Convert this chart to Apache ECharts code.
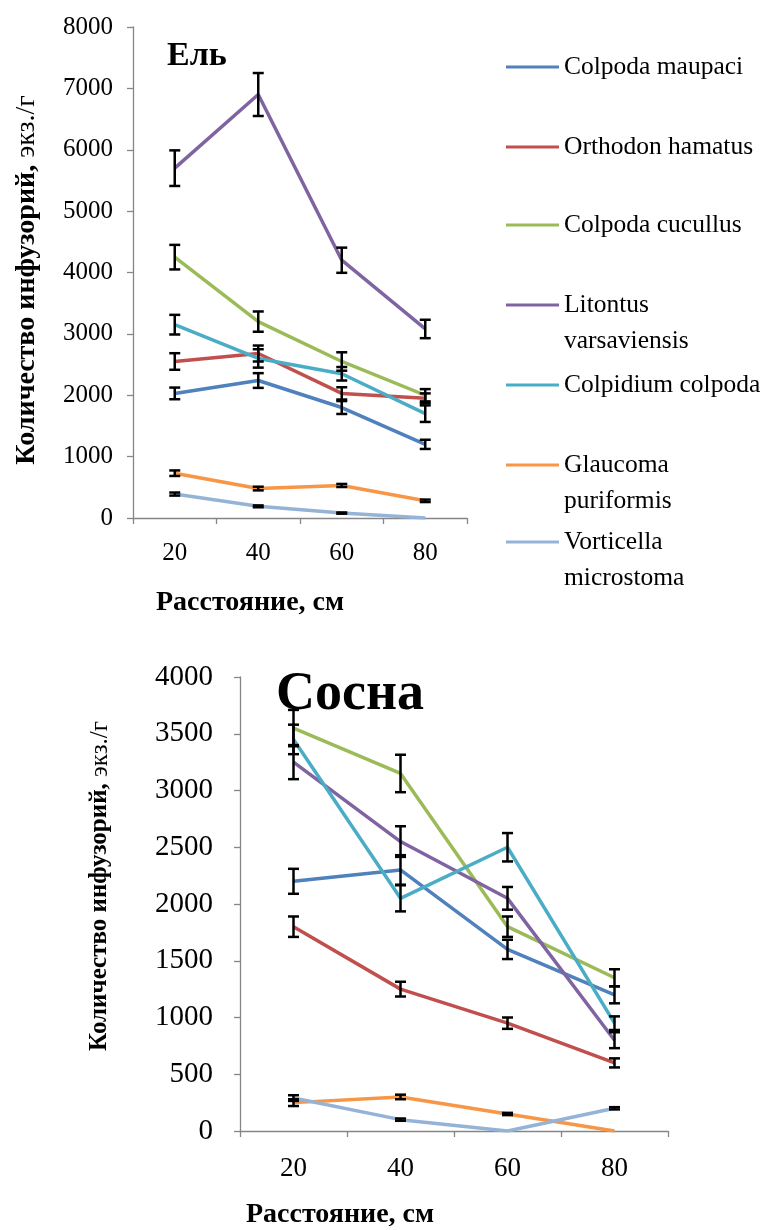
<!DOCTYPE html>
<html><head><meta charset="utf-8">
<script src="https://cdn.jsdelivr.net/npm/echarts@6/dist/echarts.min.js"></script>
<style>html,body{margin:0;padding:0;background:#fff}#c{width:765px;height:1230px}</style>
</head><body><div id="c"></div>
<script>
// ---------- DATA ----------
const categories = ['20', '40', '60', '80'];
const seriesNames = ['Colpoda maupaci', 'Orthodon hamatus', 'Colpoda cucullus', 'Litontus varsaviensis', 'Colpidium colpoda', 'Glaucoma puriformis', 'Vorticella microstoma'];
const legendLabels = ['Colpoda maupaci', 'Orthodon hamatus', 'Colpoda cucullus', 'Litontus\nvarsaviensis', 'Colpidium colpoda', 'Glaucoma\npuriformis', 'Vorticella\nmicrostoma'];
const colors = ['#4F81BD', '#C0504D', '#9BBB59', '#8064A2', '#4BACC6', '#F79646', '#95B3D7'];

// Ель (spruce) – means
const spruceMaupaci    = [2030, 2240, 1800, 1200];
const spruceOrthodon   = [2550, 2680, 2030, 1950];
const spruceCucullus   = [4250, 3200, 2550, 2000];
const spruceLitontus   = [5700, 6900, 4200, 3080];
const spruceColpidium  = [3150, 2600, 2350, 1700];
const spruceGlaucoma   = [730, 480, 530, 280];
const spruceVorticella = [390, 190, 80, 0];
// Ель – error half-widths
const spruceMaupaciErr    = [95, 120, 105, 75];
const spruceOrthodonErr   = [135, 130, 100, 80];
const spruceCucullusErr   = [200, 165, 150, 100];
const spruceLitontusErr   = [290, 350, 205, 150];
const spruceColpidiumErr  = [160, 150, 110, 135];
const spruceGlaucomaErr   = [45, 30, 25, 20];
const spruceVorticellaErr = [25, 15, 10, 0];

// Сосна (pine) – means
const pineMaupaci    = [2200, 2300, 1600, 1200];
const pineOrthodon   = [1800, 1250, 950, 600];
const pineCucullus   = [3550, 3150, 1800, 1350];
const pineLitontus   = [3250, 2550, 2050, 800];
const pineColpidium  = [3450, 2050, 2500, 950];
const pineGlaucoma   = [250, 300, 150, 0];
const pineVorticella = [290, 100, 0, 200];
// Сосна – error half-widths
const pineMaupaciErr    = [110, 130, 85, 75];
const pineOrthodonErr   = [90, 65, 50, 40];
const pineCucullusErr   = [160, 165, 90, 75];
const pineLitontusErr   = [150, 135, 100, 70];
const pineColpidiumErr  = [130, 115, 125, 60];
const pineGlaucomaErr   = [30, 20, 10, 0];
const pineVorticellaErr = [25, 10, 0, 10];

const spruceYMax = 8000, spruceYStep = 1000;
const pineYMax = 4000, pineYStep = 500;

const spruceMeans = [spruceMaupaci, spruceOrthodon, spruceCucullus, spruceLitontus, spruceColpidium, spruceGlaucoma, spruceVorticella];
const spruceErrs = [spruceMaupaciErr, spruceOrthodonErr, spruceCucullusErr, spruceLitontusErr, spruceColpidiumErr, spruceGlaucomaErr, spruceVorticellaErr];
const pineMeans = [pineMaupaci, pineOrthodon, pineCucullus, pineLitontus, pineColpidium, pineGlaucoma, pineVorticella];
const pineErrs = [pineMaupaciErr, pineOrthodonErr, pineCucullusErr, pineLitontusErr, pineColpidiumErr, pineGlaucomaErr, pineVorticellaErr];

// ---------- CHART ----------
const SERIF = '"Liberation Serif", "Times New Roman", serif';
const AXIS_COLOR = '#868686';

function errRender(params, api) {
  const x = api.value(0), v = api.value(1), e = api.value(2);
  if (!e) return null;
  const hi = api.coord([x, v + e]);
  const lo = api.coord([x, Math.max(0, v - e)]);
  const w = 5.5;
  const st = { stroke: '#000', lineWidth: 2.5 };
  return {
    type: 'group',
    children: [
      { type: 'line', shape: { x1: hi[0], y1: hi[1], x2: lo[0], y2: lo[1] }, style: st },
      { type: 'line', shape: { x1: hi[0] - w, y1: hi[1], x2: hi[0] + w, y2: hi[1] }, style: st },
      { type: 'line', shape: { x1: lo[0] - w, y1: lo[1], x2: lo[0] + w, y2: lo[1] }, style: st }
    ]
  };
}

const series = [];
function addChart(means, errs, gi) {
  means.forEach((arr, i) => {
    series.push({
      type: 'line', name: seriesNames[i], xAxisIndex: gi, yAxisIndex: gi,
      data: arr, symbol: 'none', smooth: false,
      lineStyle: { width: 3.5, color: colors[i] }, itemStyle: { color: colors[i] },
      z: 2 + i * 0.01, animation: false
    });
  });
  means.forEach((arr, i) => {
    series.push({
      type: 'custom', xAxisIndex: gi, yAxisIndex: gi,
      renderItem: errRender,
      data: arr.map((v, k) => [k, v, errs[i][k]]),
      z: 5, animation: false, silent: true
    });
  });
}
addChart(spruceMeans, spruceErrs, 0);
addChart(pineMeans, pineErrs, 1);

function xAxis(gi, fs, margin) {
  return {
    type: 'category', gridIndex: gi, data: categories, boundaryGap: true,
    axisLine: { lineStyle: { color: AXIS_COLOR, width: 1.3 } },
    axisTick: { show: true, length: 6, lineStyle: { color: AXIS_COLOR, width: 1.3 } },
    axisLabel: { color: '#000', fontFamily: SERIF, fontSize: fs, margin: margin },
    splitLine: { show: false }
  };
}
function yAxis(gi, max, step, fs, margin) {
  return {
    type: 'value', gridIndex: gi, min: 0, max: max, interval: step,
    axisLine: { show: true, lineStyle: { color: AXIS_COLOR, width: 1.3 } },
    axisTick: { show: true, length: 6, lineStyle: { color: AXIS_COLOR, width: 1.3 } },
    axisLabel: { color: '#000', fontFamily: SERIF, fontSize: fs, margin: margin, formatter: v => String(v) },
    splitLine: { show: false }
  };
}

const legendCenters = [67, 147, 225, 305, 385, 465, 542];
const LH = 36;
const legends = seriesNames.map((n, i) => {
  const two = legendLabels[i].indexOf('\n') >= 0;
  const label = two ? '\n' + legendLabels[i] : legendLabels[i];
  return {
    data: [{ name: n, icon: 'rect' }],
    left: 506,
    top: two ? legendCenters[i] - 1.5 * LH : legendCenters[i] - LH / 2,
    orient: 'vertical', padding: 0,
    itemWidth: 53, itemHeight: 3, selectedMode: false,
    formatter: () => label,
    textStyle: { fontFamily: SERIF, fontSize: 25.5, color: '#000', lineHeight: LH }
  };
});

const chart = echarts.init(document.getElementById('c'), null, { renderer: 'canvas' });
chart.setOption({
  backgroundColor: '#fff',
  animation: false,
  color: colors,
  legend: legends,
  grid: [
    { left: 133, top: 27, width: 334, height: 491 },
    { left: 240, top: 677, width: 428, height: 454 }
  ],
  xAxis: [xAxis(0, 25, 23), xAxis(1, 27, 24)],
  yAxis: [yAxis(0, spruceYMax, spruceYStep, 25, 20), yAxis(1, pineYMax, pineYStep, 29, 27)],
  series: series,
  graphic: [
    { type: 'text', left: 167, top: 39, style: { text: 'Ель', font: 'bold 34px ' + SERIF, fill: '#000' } },
    { type: 'text', left: 276, top: 668, style: { text: 'Сосна', font: 'bold 54px ' + SERIF, fill: '#000' } },
    { type: 'text', x: 250, y: 603, style: { text: 'Расстояние, см', font: 'bold 28px ' + SERIF, fill: '#000', align: 'center', verticalAlign: 'middle' } },
    { type: 'text', x: 340, y: 1215, style: { text: 'Расстояние, см', font: 'bold 28px ' + SERIF, fill: '#000', align: 'center', verticalAlign: 'middle' } },
    { type: 'text', x: 27, y: 280, rotation: Math.PI / 2, style: {
        text: '{b|Количество инфузорий, }{r|экз./г}', align: 'center', verticalAlign: 'middle',
        rich: { b: { fontFamily: SERIF, fontWeight: 'bold', fontSize: 28, fill: '#000' }, r: { fontFamily: SERIF, fontSize: 28, fill: '#000' } } } },
    { type: 'text', x: 100, y: 886, rotation: Math.PI / 2, style: {
        text: '{b|Количество инфузорий, }{r|экз./г}', align: 'center', verticalAlign: 'middle',
        rich: { b: { fontFamily: SERIF, fontWeight: 'bold', fontSize: 25, fill: '#000' }, r: { fontFamily: SERIF, fontSize: 25, fill: '#000' } } } }
  ]
});
</script>
</body></html>
